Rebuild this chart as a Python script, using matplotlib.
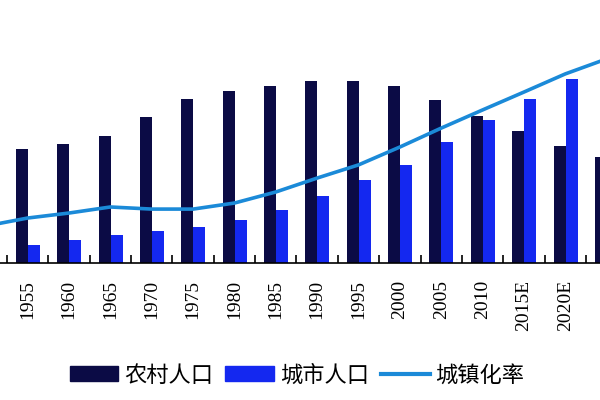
import matplotlib
matplotlib.use("Agg")
import matplotlib.pyplot as plt
import numpy as np
from matplotlib.patches import Patch
from matplotlib.lines import Line2D

years = ["1950", "1955", "1960", "1965", "1970", "1975", "1980", "1985", "1990",
         "1995", "2000", "2005", "2010", "2015E", "2020E", "2025E"]
rural = [500, 540, 564, 602, 692, 778, 816, 839, 863, 863, 839, 773, 697, 626, 555, 503]
urban = [62, 86, 109, 133, 152, 171, 204, 251, 318, 394, 465, 574, 678, 778, 872, 930]
rate = [14.1, 17.1, 19.0, 21.3, 20.5, 20.5, 22.8, 27.0, 32.3, 37.3, 44.1, 51.3, 58.2, 65.0, 71.9, 77.6]

rural_color = "#0b0b45"
urban_color = "#1428f0"
line_color = "#1b8ad8"

fig = plt.figure(figsize=(6, 4), dpi=100)
fig.patch.set_facecolor("white")
ax = fig.add_axes([0, 0.3425, 1, 0.6575])
x = np.arange(len(years))
w = 0.29
ax.bar(x - 0.14, rural, width=w, color=rural_color, zorder=2)
ax.bar(x + 0.15, urban, width=w, color=urban_color, zorder=2)
ax.set_ylim(0, 263 * 4.74)
for s in ["top", "left", "right"]:
    ax.spines[s].set_visible(False)
ax.spines["bottom"].set_linewidth(1.2)
ax.set_yticks([])

ax2 = ax.twinx()
ax2.plot(x, rate, color=line_color, lw=2.6, zorder=3)
ax2.set_ylim(0, 100)
ax2.set_yticks([])
for s in ["top", "left", "right", "bottom"]:
    ax2.spines[s].set_visible(False)

ax.set_xlim(0.331, 14.839)
ax.set_xticks(x)
ax.set_xticklabels(years, rotation=90, fontfamily="Liberation Serif", fontsize=14)
ax.tick_params(axis="x", which="major", length=0, pad=12)
ax.set_xticks(x[:-1] + 0.5, minor=True)
ax.tick_params(axis="x", which="minor", direction="in", length=6, width=1.2)
ax.set_xlim(0.331, 14.839)

handles = [Patch(color=rural_color), Patch(color=urban_color),
           Line2D([0], [0], color=line_color, lw=3)]
labels = ["农村人口", "城市人口", "城镇化率"]
fig.legend(handles, labels, loc="center", bbox_to_anchor=(0.495, 0.0625), ncol=3,
           frameon=False, prop={"family": ["Noto Sans CJK SC", "DejaVu Sans"], "size": 16},
           handlelength=2.2, handleheight=0.65, handletextpad=0.25, columnspacing=0.55)

fig.savefig("out.png", dpi=100, facecolor="white")
